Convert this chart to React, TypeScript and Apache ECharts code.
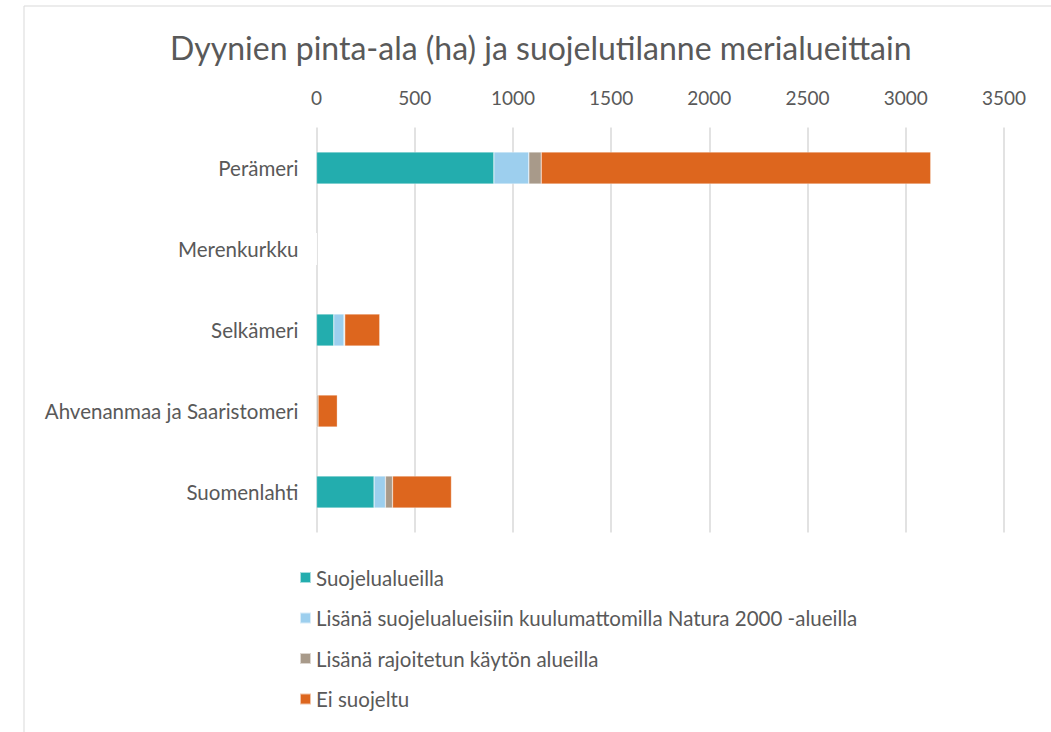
import React, { useEffect, useRef } from "react";
import * as echarts from "echarts";

const categories = ["Perämeri", "Merenkurkku", "Selkämeri", "Ahvenanmaa ja Saaristomeri", "Suomenlahti"];
const seriesNames = [
  "Suojelualueilla",
  "Lisänä suojelualueisiin kuulumattomilla Natura 2000 -alueilla",
  "Lisänä rajoitetun käytön alueilla",
  "Ei suojeltu",
];
const suojelualueilla = [903, 0, 88, 0, 293];
const natura = [178, 0, 52, 0, 58];
const rajoitettu = [63, 0, 4, 8, 36];
const eiSuojeltu = [1983, 0, 178, 98, 300];
const xTicks = [0, 500, 1000, 1500, 2000, 2500, 3000, 3500];
const colors = ["#23ADAE", "#9DCFEE", "#A89A8A", "#DD661E"];

const FONT = "Lato";
const TXT = "#595959";

export default function App() {
  const ref = useRef<HTMLDivElement>(null);
  useEffect(() => {
    if (!ref.current) return;
    const chart = echarts.init(ref.current, null, { renderer: "svg" });
    const values = [suojelualueilla, natura, rajoitettu, eiSuojeltu];
    chart.setOption({
      animation: false,
      backgroundColor: "#ffffff",
      title: {
        text: "Dyynien pinta-ala (ha) ja suojelutilanne merialueittain",
        left: 165,
        top: 26,
        textStyle: { fontFamily: FONT, fontSize: 32, fontWeight: "normal", color: TXT },
      },
      graphic: [
        {
          type: "rect",
          shape: { x: 24, y: 6, width: 1040, height: 740 },
          style: { fill: "none", stroke: "#d9d9d9", lineWidth: 1 },
          silent: true,
        },
      ],
      grid: { left: 316.5, right: 47, top: 127.5, height: 405, containLabel: false },
      xAxis: {
        type: "value",
        position: "top",
        min: xTicks[0],
        max: xTicks[xTicks.length - 1],
        interval: 500,
        axisLine: { show: false },
        axisTick: { show: false },
        axisLabel: {
          fontFamily: FONT,
          fontSize: 19,
          color: TXT,
          margin: 21,
          formatter: (v: number) => String(v),
        },
        splitLine: { lineStyle: { color: "#d9d9d9", width: 1.5 } },
      },
      yAxis: {
        type: "category",
        data: categories,
        inverse: true,
        axisLine: { show: false },
        axisTick: { show: false },
        axisLabel: { fontFamily: FONT, fontSize: 20.5, color: TXT, margin: 18 },
      },
      legend: {
        orient: "vertical",
        left: 294,
        top: 562,
        itemGap: 19.5,
        itemWidth: 11,
        itemHeight: 11,
        icon: "rect",
        data: seriesNames,
        textStyle: { fontFamily: FONT, fontSize: 20.5, color: TXT },
      },
      series: seriesNames.map((name, i) => ({
        name,
        type: "bar",
        stack: "total",
        barWidth: 32,
        data: values[i],
        itemStyle: { color: colors[i], borderColor: "rgba(255,255,255,0.6)", borderWidth: 0.5 },
      })),
    });
    return () => chart.dispose();
  }, []);
  return (
    <div
      ref={ref}
      style={{ position: "fixed", left: 0, top: 0, width: 1051, height: 732 }}
    />
  );
}
